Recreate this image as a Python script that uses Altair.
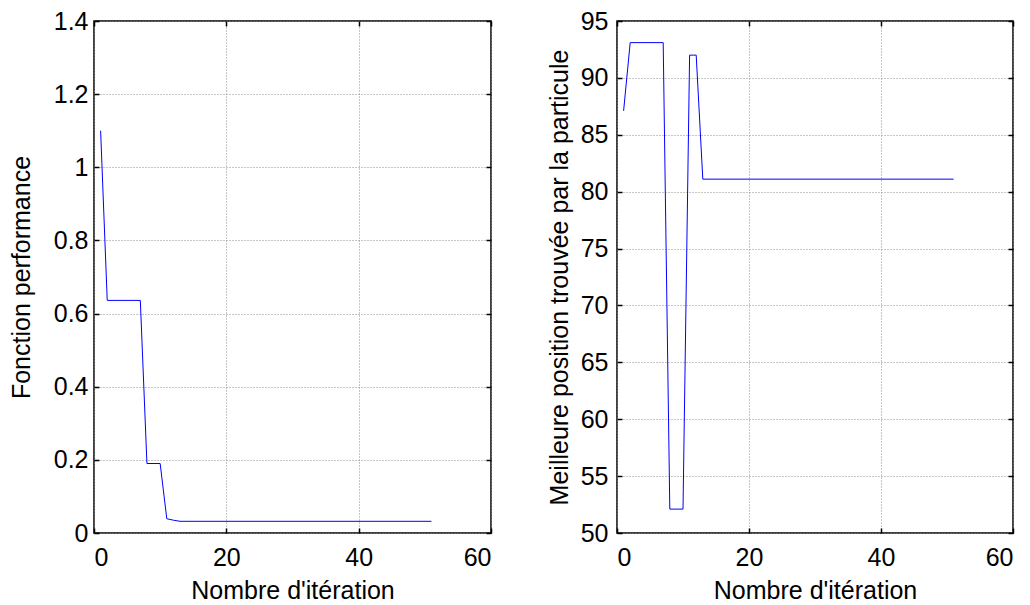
import altair as alt
import pandas as pd

# ---- data ----
left_iter = [1, 2, 7, 8, 10, 11, 12, 13, 51]
left_perf = [1.10, 0.636, 0.636, 0.19, 0.19, 0.039, 0.035, 0.032, 0.032]

right_iter = [1, 2, 7, 8, 10, 11, 12, 13, 51]
right_pos = [87.1, 93.1, 93.1, 52.1, 52.1, 92.0, 92.0, 81.1, 81.1]

x_ticks = [0, 20, 40, 60]
left_y_ticks = [0, 0.2, 0.4, 0.6, 0.8, 1.0, 1.2, 1.4]
right_y_ticks = [50, 55, 60, 65, 70, 75, 80, 85, 90, 95]

x_title = "Nombre d'itération"
left_title = "Fonction performance"
right_title = "Meilleure position trouvée par la particule"

FONT = "Liberation Sans"
FS = 25


def panel(df, ycol, ydomain, yticks, ytitle, label_pad, title_pad, W, H):
    base = alt.Chart(df)
    xs = alt.Scale(domain=[0, 60], nice=False, zero=False)
    ys = alt.Scale(domain=ydomain, nice=False, zero=False)

    main = base.mark_line(color="#0000ff", strokeWidth=1).encode(
        x=alt.X("it:Q", scale=xs, title=x_title,
                axis=alt.Axis(orient="bottom", values=x_ticks, ticks=False, domain=False,
                              grid=True, format="d", labelPadding=12, titlePadding=8)),
        y=alt.Y(f"{ycol}:Q", scale=ys, title=ytitle,
                axis=alt.Axis(orient="left", values=yticks, ticks=False, domain=False,
                              grid=True, format="~g", labelPadding=label_pad,
                              titlePadding=title_pad)),
    )

    def tick_axis(orient, vals):
        return alt.Axis(orient=orient, values=vals, labels=False, domain=False, grid=False,
                        ticks=True, tickSize=5, offset=-5, tickColor="black", tickWidth=1.5)

    t1 = base.mark_line(opacity=0).encode(
        x=alt.X("it:Q", scale=xs, title=None, axis=tick_axis("bottom", x_ticks)),
        y=alt.Y(f"{ycol}:Q", scale=ys, title=None, axis=tick_axis("left", yticks)),
    )
    t2 = base.mark_line(opacity=0).encode(
        x=alt.X("it:Q", scale=xs, title=None, axis=tick_axis("top", x_ticks)),
        y=alt.Y(f"{ycol}:Q", scale=ys, title=None, axis=tick_axis("right", yticks)),
    )
    return (alt.layer(main, t1, t2)
            .resolve_axis(x="independent", y="independent")
            .properties(width=W, height=H))


df_left = pd.DataFrame({"it": left_iter, "perf": left_perf})
df_right = pd.DataFrame({"it": right_iter, "pos": right_pos})

left = panel(df_left, "perf", [0, 1.4], left_y_ticks, left_title, 6, 19, 397, 512)
right = panel(df_right, "pos", [50, 95], right_y_ticks, right_title, 9, 8, 396, 512)

chart = (alt.hconcat(left, right, spacing=53)
         .properties(padding={"left": 0, "top": 0, "right": 0, "bottom": 0},
                     background="white")
         .configure_view(stroke="black", strokeWidth=1.5)
         .configure_axis(labelFont=FONT, titleFont=FONT, labelFontSize=FS, titleFontSize=FS,
                         labelColor="black", titleColor="black", titleFontWeight="normal",
                         gridColor="#8c8c8c", gridDash=[1, 2], gridWidth=1, gridOpacity=1))

chart.save("out.html", embed_options={"renderer": "svg", "actions": False})
